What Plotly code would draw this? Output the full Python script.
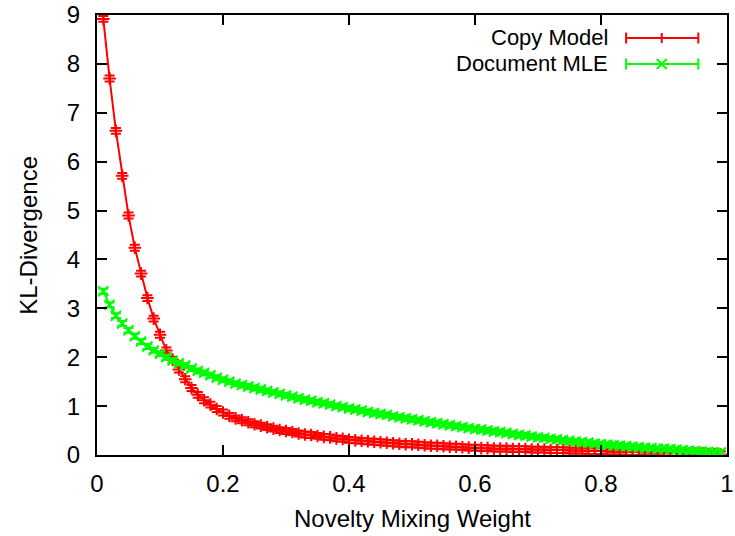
import plotly.graph_objects as go

# ---- data ----
weights = [i / 100 for i in range(1, 100)]

copy_model = [
    8.92, 7.70, 6.63, 5.71, 4.90, 4.24, 3.71, 3.21, 2.79, 2.46,
    2.14, 1.95, 1.75, 1.55, 1.37, 1.23, 1.12, 1.03, 0.94, 0.87,
    0.80, 0.75, 0.71, 0.67, 0.63, 0.60, 0.57, 0.54, 0.51, 0.49,
    0.47, 0.44, 0.42, 0.41, 0.39, 0.37, 0.36, 0.34, 0.33, 0.31,
    0.30, 0.29, 0.28, 0.27, 0.26, 0.25, 0.24, 0.23, 0.22, 0.22,
    0.21, 0.20, 0.19, 0.19, 0.18, 0.17, 0.17, 0.16, 0.15, 0.15,
    0.14, 0.14, 0.13, 0.13, 0.13, 0.12, 0.12, 0.12, 0.11, 0.11,
    0.11, 0.10, 0.10, 0.10, 0.09, 0.09, 0.09, 0.08, 0.08, 0.08,
    0.07, 0.07, 0.07, 0.06, 0.06, 0.06, 0.05, 0.05, 0.05, 0.05,
    0.04, 0.04, 0.04, 0.03, 0.03, 0.03, 0.02, 0.02, 0.01,
]

document_mle = [
    3.35, 3.07, 2.85, 2.69, 2.55, 2.43, 2.32, 2.22, 2.14, 2.07,
    2.00, 1.93, 1.88, 1.83, 1.77, 1.72, 1.68, 1.63, 1.58, 1.54,
    1.50, 1.46, 1.43, 1.40, 1.37, 1.34, 1.31, 1.28, 1.25, 1.22,
    1.19, 1.16, 1.13, 1.11, 1.08, 1.06, 1.03, 1.00, 0.98, 0.95,
    0.93, 0.91, 0.88, 0.86, 0.84, 0.82, 0.79, 0.77, 0.75, 0.73,
    0.71, 0.69, 0.67, 0.65, 0.63, 0.61, 0.59, 0.57, 0.55, 0.53,
    0.52, 0.50, 0.48, 0.47, 0.45, 0.43, 0.41, 0.40, 0.38, 0.36,
    0.35, 0.33, 0.32, 0.30, 0.29, 0.27, 0.26, 0.25, 0.23, 0.22,
    0.21, 0.20, 0.19, 0.18, 0.17, 0.16, 0.15, 0.14, 0.13, 0.13,
    0.12, 0.11, 0.10, 0.09, 0.08, 0.07, 0.06, 0.05, 0.05,
]

series_names = ["Copy Model", "Document MLE"]
x_ticks = [0, 0.2, 0.4, 0.6, 0.8, 1]
x_tick_text = ["0", "0.2", "0.4", "0.6", "0.8", "1"]
y_ticks = [0, 1, 2, 3, 4, 5, 6, 7, 8, 9]

# ---- styling ----
RED = "rgb(255,0,0)"
GREEN = "rgb(0,255,0)"
FONT = "Liberation Sans, Arial, Helvetica, sans-serif"

fig = go.Figure()
fig.add_trace(go.Scatter(
    x=weights, y=copy_model, name=series_names[0], mode="lines+markers",
    line=dict(color=RED, width=2),
    marker=dict(symbol="cross-thin", size=9, line=dict(color=RED, width=2)),
    error_y=dict(type="constant", value=0.06, color=RED, thickness=2, width=5),
    showlegend=False,
))
fig.add_trace(go.Scatter(
    x=weights, y=document_mle, name=series_names[1], mode="lines+markers",
    line=dict(color=GREEN, width=2),
    marker=dict(symbol="x-thin", size=10, line=dict(color=GREEN, width=2)),
    error_y=dict(type="constant", value=0.05, color=GREEN, thickness=2, width=5),
    showlegend=False,
))

L, R, T, B = 97, 1, 15, 81
W, H = 735, 536
pw, ph = W - L - R, H - T - B

def px(xp):
    return (xp - L) / pw

def py(yp):
    return (H - B - yp) / ph

shapes = []
annotations = []
legend_rows = [(series_names[0], RED, "plus", 38), (series_names[1], GREEN, "x", 64)]
for name, col, mk, yrow in legend_rows:
    annotations.append(dict(
        x=px(616), y=py(yrow), xref="paper", yref="paper", text=name,
        showarrow=False, xanchor="right", yanchor="middle",
        font=dict(family=FONT, size=22, color="black"),
    ))
    x0, x1, xc = 632, 705, 668
    shapes.append(dict(type="line", xref="paper", yref="paper",
                       x0=px(x0), x1=px(x1), y0=py(yrow), y1=py(yrow),
                       line=dict(color=col, width=2)))
    for xe in (x0, x1):
        shapes.append(dict(type="line", xref="paper", yref="paper",
                           x0=px(xe), x1=px(xe), y0=py(yrow - 5.5), y1=py(yrow + 5.5),
                           line=dict(color=col, width=2)))
    if mk == "plus":
        shapes.append(dict(type="line", xref="paper", yref="paper",
                           x0=px(xc), x1=px(xc), y0=py(yrow - 5), y1=py(yrow + 5),
                           line=dict(color=col, width=2)))
    else:
        shapes.append(dict(type="line", xref="paper", yref="paper",
                           x0=px(xc - 5), x1=px(xc + 5), y0=py(yrow - 5), y1=py(yrow + 5),
                           line=dict(color=col, width=2)))
        shapes.append(dict(type="line", xref="paper", yref="paper",
                           x0=px(xc - 5), x1=px(xc + 5), y0=py(yrow + 5), y1=py(yrow - 5),
                           line=dict(color=col, width=2)))

annotations.append(dict(
    x=0.5, y=py(518), xref="paper", yref="paper", text="Novelty Mixing Weight",
    showarrow=False, xanchor="center", yanchor="middle",
    font=dict(family=FONT, size=24, color="black"),
))
annotations.append(dict(
    x=px(27), y=0.5, xref="paper", yref="paper", text="KL-Divergence",
    showarrow=False, xanchor="center", yanchor="middle", textangle=-90,
    font=dict(family=FONT, size=24, color="black"),
))

axis_common = dict(
    showline=True, linecolor="black", linewidth=2, mirror="allticks",
    ticks="inside", ticklen=10, tickwidth=1.5, tickcolor="black",
    showgrid=False, zeroline=False,
    tickfont=dict(family=FONT, size=24, color="black"),
)

fig.update_layout(
    width=W, height=H,
    margin=dict(l=L, r=R, t=T, b=B, pad=0),
    paper_bgcolor="white", plot_bgcolor="white",
    xaxis=dict(range=[0, 1], tickvals=x_ticks, ticktext=x_tick_text,
               ticklabelstandoff=6, ticklabeloverflow="allow", **axis_common),
    yaxis=dict(range=[0, 9], tickvals=y_ticks,
               ticklabelstandoff=10, **axis_common),
    shapes=shapes, annotations=annotations,
)

fig.write_html("out.html")
